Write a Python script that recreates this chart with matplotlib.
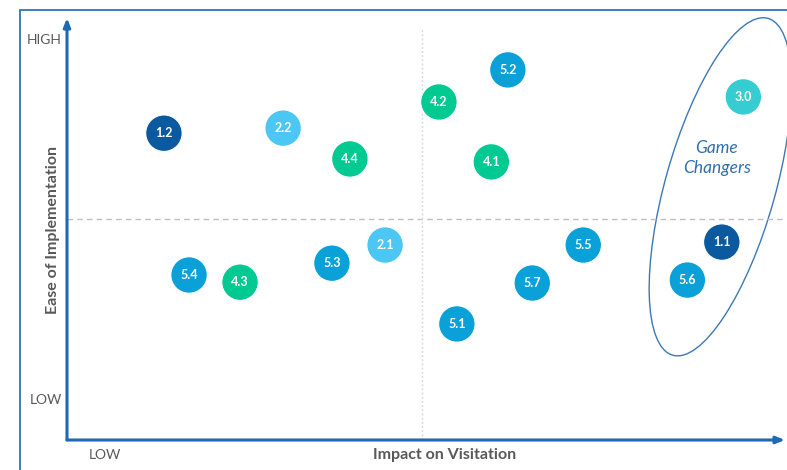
import matplotlib
matplotlib.use("Agg")
import matplotlib.pyplot as plt
from matplotlib.patches import Ellipse, Rectangle
from matplotlib.transforms import ScaledTranslation

plt.rcParams['font.family'] = ['Lato', 'DejaVu Sans']

# initiatives: label, impact on visitation (x), ease of implementation (y)
labels = ['1.2', '2.2', '4.4', '4.2', '5.2', '4.1', '3.0', '2.1',
          '5.3', '5.4', '4.3', '5.5', '5.7', '5.1', '5.6', '1.1']
impact = [1.35, 3.01, 3.94, 5.18, 6.14, 5.91, 9.42, 4.43,
          3.69, 1.70, 2.41, 7.19, 6.48, 5.43, 8.64, 9.12]
ease = [7.27, 7.39, 6.66, 8.01, 8.77, 6.59, 8.13, 4.62,
        4.19, 3.91, 3.74, 4.62, 3.72, 2.75, 3.79, 4.69]
groups = ['navy', 'light', 'green', 'green', 'blue', 'green', 'teal', 'light',
          'blue', 'blue', 'green', 'blue', 'blue', 'blue', 'blue', 'navy']

colors = {'navy': '#0b5aa0', 'light': '#4cc6f2', 'green': '#00c992',
          'blue': '#0aa0d8', 'teal': '#35cdd2'}

x_split = 4.94
y_split = 5.24

fig = plt.figure(figsize=(7.87, 4.70), dpi=100)

# outer frame (cut off on the right and bottom like the source slide)
fig.patches.append(Rectangle((20 / 787, -0.1), 1.2, 1 - 10 / 470 + 0.1,
                             transform=fig.transFigure, fill=False,
                             edgecolor='#2e75b6', lw=1.3))

ax = fig.add_axes([67 / 787, 30 / 470, 718 / 787, 422 / 470])
ax.set_xlim(0, 10)
ax.set_ylim(0, 10)
ax.axis('off')

# axis arrows
arrow = dict(arrowstyle='-|>,head_length=0.5,head_width=0.2', color='#1f69b3', lw=2.2,
             shrinkA=0, shrinkB=0)
ax.annotate('', xy=(0, 1), xytext=(0, 0), xycoords='axes fraction', arrowprops=arrow)
ax.annotate('', xy=(1, 0), xytext=(0, 0), xycoords='axes fraction', arrowprops=arrow)

# quadrant lines
ax.plot([0, 9.96], [y_split, y_split], color='#bfbfbf', lw=1, ls=(0, (4, 3)))
ax.plot([x_split, x_split], [0, 9.76], color='#d9d9d9', lw=1, ls=(0, (1.5, 1.5)))

# bubbles
ax.scatter(impact, ease, s=690, c=[colors[g] for g in groups],
           edgecolors='white', linewidths=0.8, zorder=3)
for lab, x, y in zip(labels, impact, ease):
    ax.text(x, y, lab, color='white', fontsize=9, fontweight='bold',
            ha='center', va='center', zorder=4)

# game changers ellipse, sized in inches around a data centre
ell = Ellipse((0, 0), 1.10, 3.50, angle=-15.8, fill=False, edgecolor='#3b78b8', lw=1,
              transform=fig.dpi_scale_trans + ScaledTranslation(9.10, 6.0, ax.transData))
ax.add_patch(ell)
ell.set_clip_on(False)
ax.text(9.05, 6.68, 'Game\nChangers', color='#2f6fad', fontsize=12.5, style='italic',
        ha='center', va='center', linespacing=1.35)

# axis labels
ax.text(-0.07, 9.48, 'HIGH', ha='right', va='center', fontsize=10, color='#595959',
        clip_on=False)
ax.text(-0.07, 0.95, 'LOW', ha='right', va='center', fontsize=10, color='#595959',
        clip_on=False)
ax.text(0.53, -0.36, 'LOW', ha='center', va='center', fontsize=10, color='#595959',
        clip_on=False)
ax.text(5.26, -0.36, 'Impact on Visitation', ha='center', va='center', fontsize=11.5,
        fontweight='bold', color='#595959', clip_on=False)
ax.text(-0.2, 4.98, 'Ease of Implementation', ha='center', va='center', fontsize=11.5,
        fontweight='bold', color='#595959', rotation=90, clip_on=False)

fig.savefig('out.png', dpi=100)
